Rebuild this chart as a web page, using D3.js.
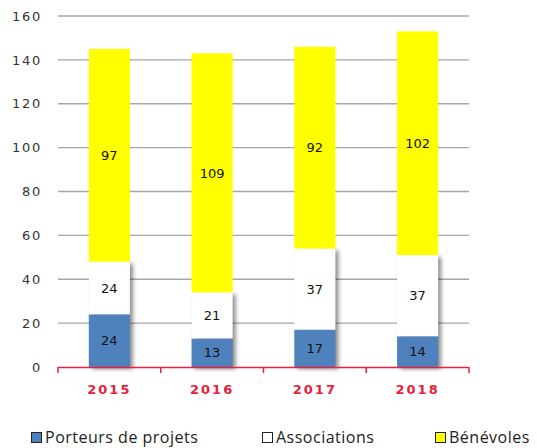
<!DOCTYPE html>
<html><head><meta charset="utf-8">
<script src="https://cdn.jsdelivr.net/npm/d3@7"></script>
<style>body{margin:0;background:#fff;}svg{display:block;}</style>
</head><body>
<script>
const years = ["2015","2016","2017","2018"];
const porteurs = [24, 13, 17, 14];
const associations = [24, 21, 37, 37];
const benevoles = [97, 109, 92, 102];
const seriesNames = ["Porteurs de projets","Associations","Bénévoles"];
const seriesColors = ["#4f81bd","#ffffff","#ffff00"];
const yTicks = [0,20,40,60,80,100,120,140,160];

const W = 537, H = 448;
const svg = d3.select("body").append("svg").attr("width", W).attr("height", H);
const defs = svg.append("defs");
const f = defs.append("filter").attr("id","sh").attr("x","-20%").attr("y","-20%").attr("width","160%").attr("height","160%");
f.append("feGaussianBlur").attr("stdDeviation",2.2);

const x = d3.scaleBand().domain(years).range([58, 469]).paddingInner(0.6).paddingOuter(0.3);
const y = d3.scaleLinear().domain([0,160]).range([367, 16]);

// gridlines
svg.append("g").selectAll("line").data(yTicks.filter(d=>d>0)).join("line")
  .attr("x1",58).attr("x2",469).attr("y1",d=>y(d)).attr("y2",d=>y(d))
  .attr("stroke","#a6a6a6").attr("stroke-width",1.3);

// y labels
svg.append("g").selectAll("text").data(yTicks).join("text")
  .attr("x",42).attr("y",d=>y(d)).attr("dy","0.36em").attr("text-anchor","end")
  .attr("font-family","'DejaVu Sans', sans-serif").attr("font-size",13).attr("letter-spacing","1.7px")
  .attr("fill","#333").text(d=>d);

const rows = years.map((yr,i)=>({year:yr, p:porteurs[i], a:associations[i], b:benevoles[i]}));
const stack = d3.stack().keys(["p","a","b"])(rows);

const g = svg.append("g");
// shadow behind lower two segments
g.append("g").selectAll("rect").data(stack[1]).join("rect")
  .attr("x", d=>x(d.data.year)+3).attr("width", x.bandwidth())
  .attr("y", d=>y(d[1])+2).attr("height", d=>y(0)-y(d[1]))
  .attr("fill","#000").attr("opacity",0.45).attr("filter","url(#sh)");
stack.forEach((layer, li) => {
  g.append("g").selectAll("rect").data(layer).join("rect")
    .attr("x", d=>x(d.data.year)).attr("width", x.bandwidth())
    .attr("y", d=>y(d[1])).attr("height", d=>y(d[0])-y(d[1]))
    .attr("fill", seriesColors[li]);
});
// labels
stack.forEach((layer, li) => {
  g.append("g").selectAll("text").data(layer).join("text")
    .attr("x", d=>x(d.data.year)+x.bandwidth()/2)
    .attr("y", d=>(y(d[0])+y(d[1]))/2).attr("dy","0.36em")
    .attr("text-anchor","middle").attr("font-family","'DejaVu Sans', sans-serif").attr("font-size",13)
    .attr("fill","#111").text(d=>d[1]-d[0]);
});

// x axis
const ax = svg.append("g");
ax.append("line").attr("x1",58).attr("x2",469).attr("y1",367.5).attr("y2",367.5).attr("stroke","#e8203a").attr("stroke-width",1.5);
const bounds = [58].concat(years.map(yr=>x(yr)+x.bandwidth()/2+x.step()/2));
ax.selectAll("line.t").data(bounds).join("line").attr("class","t")
  .attr("x1",d=>d).attr("x2",d=>d).attr("y1",367).attr("y2",373).attr("stroke","#e8203a").attr("stroke-width",1.5);
ax.selectAll("text").data(years).join("text")
  .attr("x",d=>x(d)+x.bandwidth()/2).attr("y",394).attr("text-anchor","middle")
  .attr("font-family","'DejaVu Sans', sans-serif").attr("font-size",13).attr("font-weight","bold")
  .attr("letter-spacing","2px").attr("fill","#e8203a").text(d=>d);

// legend
const legX = [31, 262, 435];
const lg = svg.append("g");
seriesNames.forEach((n,i)=>{
  lg.append("rect").attr("x",legX[i]+0.5).attr("y",432.5).attr("width",10).attr("height",10)
    .attr("fill",seriesColors[i]).attr("stroke","#222").attr("stroke-width",1);
  lg.append("text").attr("x",legX[i]+14).attr("y",443)
    .attr("font-family","'Open Sans', sans-serif").attr("font-size",16).attr("letter-spacing","0.5px")
    .attr("fill","#222").text(n);
});
</script>
</body></html>
